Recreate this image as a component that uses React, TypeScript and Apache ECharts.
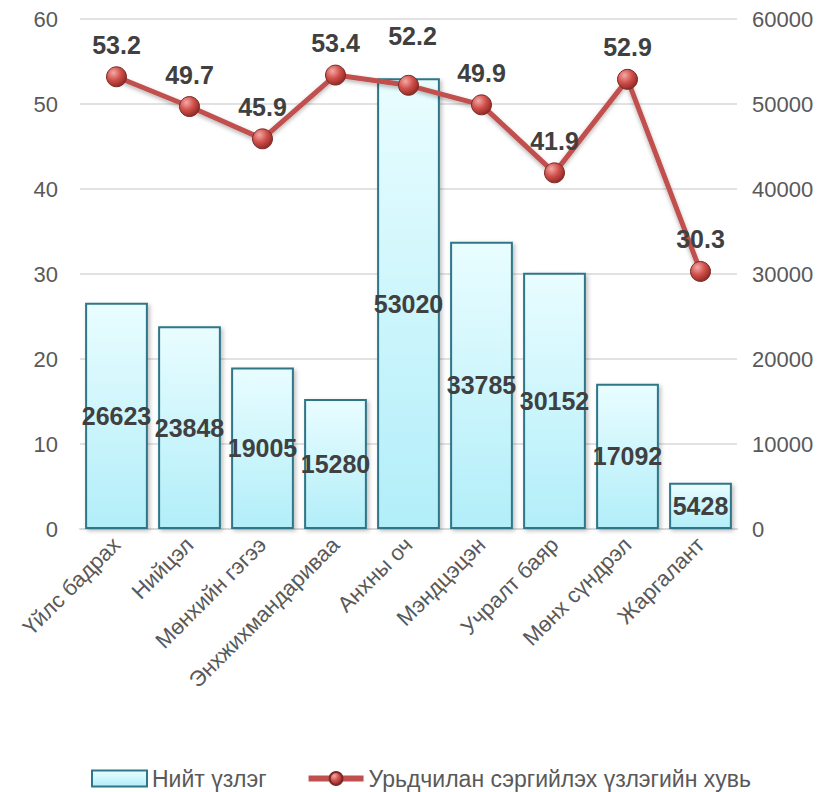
import React, { useEffect, useRef } from "react";
import * as echarts from "echarts";

const categories = [
  "Үйлс бадрах",
  "Нийцэл",
  "Мөнхийн гэгээ",
  "Энхжихмандариваа",
  "Анхны оч",
  "Мэндцэцэн",
  "Учралт баяр",
  "Мөнх сүндрэл",
  "Жаргалант",
];
const totalInspections = [26623, 23848, 19005, 15280, 53020, 33785, 30152, 17092, 5428];
const preventiveShare = [53.2, 49.7, 45.9, 53.4, 52.2, 49.9, 41.9, 52.9, 30.3];
const leftTicks = { min: 0, max: 60, interval: 10 };
const rightTicks = { min: 0, max: 60000, interval: 10000 };

export default function App() {
  const ref = useRef<HTMLDivElement>(null);
  useEffect(() => {
    if (!ref.current) return;
    const chart = echarts.init(ref.current, undefined, { renderer: "svg" });
    const font = "Liberation Sans, Arial, sans-serif";
    const lineData = preventiveShare.map((v, i) =>
      i === 4 ? { value: v, label: { distance: 26, offset: [4, 0] } } : v
    );
    chart.setOption({
      animation: false,
      textStyle: { fontFamily: font },
      grid: { left: 80, right: 92, top: 19, bottom: 263, containLabel: false },
      legend: {
        top: 762,
        left: 86,
        itemGap: 39,
        itemWidth: 55,
        itemHeight: 16,
        textStyle: { fontSize: 23, color: "#595959", fontFamily: font },
        data: [
          { name: "Нийт үзлэг", icon: "rect" },
          {
            name: "Урьдчилан сэргийлэх үзлэгийн хувь",
            lineStyle: { width: 6, color: "#c0504d" },
          },
        ],
      },
      xAxis: {
        type: "category",
        data: categories,
        axisTick: { show: false },
        axisLine: { lineStyle: { color: "#d9d9d9", width: 2 } },
        axisLabel: {
          rotate: 45,
          fontSize: 22,
          color: "#595959",
          margin: 12,
          interval: 0,
          fontFamily: font,
        },
      },
      yAxis: [
        {
          type: "value",
          ...leftTicks,
          position: "left",
          axisLine: { show: false },
          axisTick: { show: false },
          axisLabel: { fontSize: 22, color: "#595959", margin: 22, fontFamily: font },
          splitLine: { lineStyle: { color: "#d9d9d9", width: 1.5 } },
        },
        {
          type: "value",
          ...rightTicks,
          position: "right",
          axisLine: { show: false },
          axisTick: { show: false },
          axisLabel: {
            fontSize: 22,
            color: "#595959",
            margin: 15,
            fontFamily: font,
            formatter: (v: number) => String(v),
          },
          splitLine: { show: false },
        },
      ],
      series: [
        {
          name: "Нийт үзлэг",
          type: "bar",
          yAxisIndex: 1,
          data: totalInspections,
          barCategoryGap: "14%",
          itemStyle: {
            color: new echarts.graphic.LinearGradient(0, 0, 0, 1, [
              { offset: 0, color: "#e9fdff" },
              { offset: 1, color: "#b2eef9" },
            ]),
            borderColor: "#2f7688",
            borderWidth: 2,
            shadowColor: "rgba(0,0,0,0.25)",
            shadowBlur: 4,
            shadowOffsetX: 2,
            shadowOffsetY: 2,
          },
          label: {
            show: true,
            position: "inside",
            fontSize: 25,
            fontWeight: "bold",
            color: "#404040",
            fontFamily: font,
          },
        },
        {
          name: "Урьдчилан сэргийлэх үзлэгийн хувь",
          type: "line",
          yAxisIndex: 0,
          data: lineData,
          symbol: "circle",
          symbolSize: 20,
          lineStyle: {
            color: "#c0504d",
            width: 5,
            shadowColor: "rgba(0,0,0,0.3)",
            shadowBlur: 4,
            shadowOffsetY: 2,
          },
          itemStyle: {
            color: new echarts.graphic.RadialGradient(0.35, 0.3, 0.75, [
              { offset: 0, color: "#f4a9a6" },
              { offset: 0.5, color: "#d0504b" },
              { offset: 1, color: "#8c2622" },
            ]),
            borderColor: "#7a2a27",
            borderWidth: 1,
          },
          label: {
            show: true,
            position: "top",
            distance: 9,
            fontSize: 25,
            fontWeight: "bold",
            color: "#404040",
            fontFamily: font,
          },
          z: 5,
        },
      ],
    });
    return () => chart.dispose();
  }, []);
  return (
    <div
      ref={ref}
      style={{ position: "fixed", left: 0, top: 0, width: 829, height: 792, background: "#fff" }}
    />
  );
}
